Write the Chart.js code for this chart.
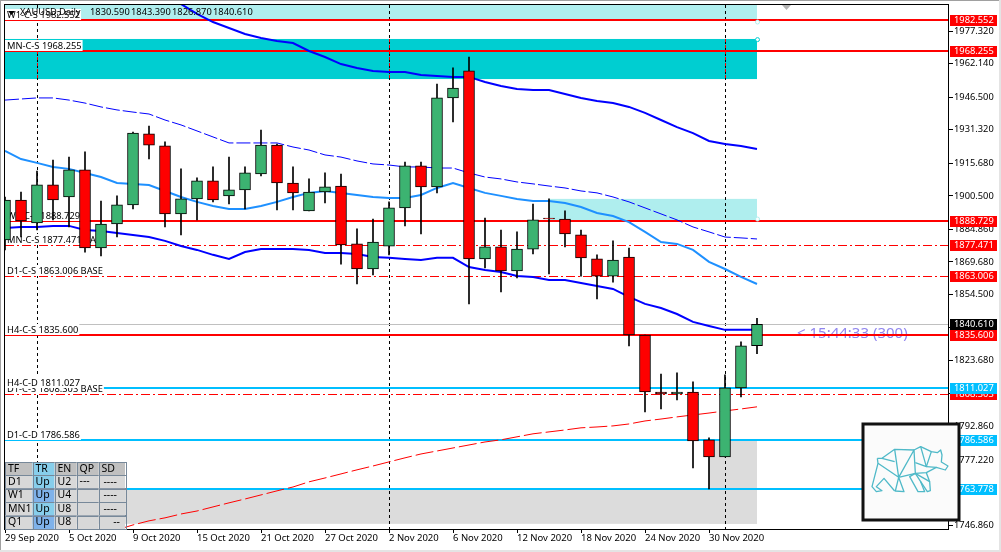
<!DOCTYPE html>
<html>
<head>
<meta charset="utf-8">
<title>XAUUSD Daily</title>
<script src="https://cdn.jsdelivr.net/npm/chart.js@4"></script>
<style>
html, body { margin: 0; padding: 0; background: #fff; }
canvas { display: block; }
</style>
</head>
<body>
<canvas id="chart" width="1001" height="552"></canvas>
<script>
var dates = ['29 Sep 2020','30 Sep 2020','1 Oct 2020','2 Oct 2020','5 Oct 2020','6 Oct 2020','7 Oct 2020','8 Oct 2020',
  '9 Oct 2020','12 Oct 2020','13 Oct 2020','14 Oct 2020','15 Oct 2020','16 Oct 2020','19 Oct 2020','20 Oct 2020',
  '21 Oct 2020','22 Oct 2020','23 Oct 2020','26 Oct 2020','27 Oct 2020','28 Oct 2020','29 Oct 2020','30 Oct 2020',
  '2 Nov 2020','3 Nov 2020','4 Nov 2020','5 Nov 2020','6 Nov 2020','9 Nov 2020','10 Nov 2020','11 Nov 2020',
  '12 Nov 2020','13 Nov 2020','16 Nov 2020','17 Nov 2020','18 Nov 2020','19 Nov 2020','20 Nov 2020','23 Nov 2020',
  '24 Nov 2020','25 Nov 2020','26 Nov 2020','27 Nov 2020','30 Nov 2020','1 Dec 2020','2 Dec 2020','3 Dec 2020'];
// empty slots to the right of the last candle
var futureSlots = ['','','','','','','','','','','',''];

var opens = [1879.9,1898.6,1887.9,1905.6,1900.0,1912.6,1876.2,1887.4,1896.3,1929.4,1923.8,1892.1,1899.1,1907.5,1900.5,1903.3,
  1910.7,1924.2,1906.5,1893.5,1902.3,1905.1,1878.1,1866.4,1877.1,1894.9,1914.5,1904.7,1946.2,1958.8,1871.1,1876.7,
  1865.5,1875.7,1890.2,1889.7,1882.3,1871.1,1863.1,1872.0,1835.6,1809.0,1808.1,1809.0,1786.7,1778.7,1810.9,1830.59];
var highs = [1900.0,1902.3,1912.1,1917.2,1918.6,1921.0,1898.1,1900.5,1930.3,1933.1,1925.7,1913.1,1908.9,1914.0,1918.6,1914.0,
  1931.2,1924.7,1914.0,1908.4,1911.2,1910.7,1885.1,1889.7,1897.7,1916.3,1916.3,1952.7,1960.2,1965.3,1890.2,1884.6,
  1883.7,1896.7,1899.1,1893.5,1884.6,1873.0,1879.5,1876.2,1835.6,1817.4,1817.9,1813.7,1787.6,1817.0,1832.4,1843.39];
var lows = [1875.3,1881.3,1884.6,1889.3,1886.0,1874.3,1872.5,1881.3,1894.4,1917.7,1886.0,1882.3,1889.3,1897.7,1896.7,1894.4,
  1909.8,1893.9,1893.9,1893.5,1897.2,1868.7,1859.4,1863.6,1873.0,1886.5,1882.7,1901.9,1935.0,1850.1,1866.9,1855.7,
  1862.2,1873.4,1864.1,1876.7,1863.1,1852.4,1860.3,1830.5,1799.7,1801.1,1805.3,1773.6,1763.8,1778.7,1806.7,1826.87];
var closes = [1898.6,1888.8,1905.6,1898.6,1912.6,1876.2,1887.4,1896.3,1929.8,1924.2,1892.1,1899.1,1907.5,1898.6,1903.3,1911.2,
  1924.2,1906.5,1901.9,1902.3,1904.7,1877.6,1866.4,1879.0,1894.9,1914.5,1904.7,1946.2,1950.8,1871.1,1876.7,1865.5,
  1875.7,1889.3,1889.7,1882.7,1871.6,1863.1,1870.6,1835.6,1809.0,1808.1,1809.0,1786.2,1778.7,1810.9,1830.5,1840.61];

var upperBlue = [null,null,null,null,null,null,null,null,null,2001.2,1995.1,1990.0,1985.4,1981.6,1978.8,1976.0,
  1974.2,1972.8,1971.8,1968.1,1965.3,1962.0,1960.2,1958.8,1958.3,1958.3,1956.9,1956.4,1956.0,1956.0,1953.6,1951.8,
  1950.4,1949.9,1949.9,1948.0,1946.2,1944.8,1943.8,1942.0,1939.2,1935.9,1932.6,1929.8,1926.1,1924.7,1923.8,1922.4];
var midBlue = [1921.5,1917.7,1915.9,1914.0,1913.1,1911.2,1909.3,1906.5,1906.1,1905.6,1902.8,1900.0,1897.7,1895.8,1894.4,1894.4,
  1895.8,1897.7,1900.0,1901.9,1902.8,1901.9,1900.9,1900.0,1899.5,1899.5,1900.9,1904.2,1906.5,1904.2,1901.9,1900.5,
  1899.1,1898.1,1898.1,1897.2,1895.3,1892.5,1891.1,1888.3,1883.7,1879.0,1878.1,1875.3,1869.7,1866.4,1862.7,1859.4];
var thinBlue = [1945.2,1945.7,1946.2,1946.2,1945.2,1943.8,1942.0,1940.6,1939.6,1938.7,1935.9,1933.6,1930.8,1928.0,1925.2,1925.2,
  1925.2,1925.2,1923.3,1921.9,1919.6,1918.6,1916.8,1915.4,1914.9,1914.0,1914.0,1913.5,1913.5,1911.2,1909.3,1908.4,
  1907.0,1906.1,1905.1,1904.2,1902.8,1901.9,1900.0,1897.7,1894.9,1892.1,1889.3,1886.0,1883.7,1881.3,1880.9,1880.4];
var lowerBlue = [1885.5,1886.0,1886.0,1886.5,1886.5,1884.6,1884.1,1883.2,1882.3,1881.3,1879.5,1877.1,1875.3,1873.0,1871.1,1874.3,
  1875.7,1875.7,1875.7,1875.3,1873.9,1873.9,1873.4,1872.0,1871.6,1871.1,1870.6,1871.6,1871.6,1867.3,1865.9,1865.0,
  1863.1,1862.7,1861.3,1861.3,1859.9,1858.5,1857.1,1853.4,1850.1,1848.2,1845.4,1841.7,1839.8,1838.0,1838.0,1838.0];
var slowRed = [null,null,null,null,null,null,null,1744.7,1747.0,1748.9,1750.3,1752.1,1753.5,1755.4,1757.3,1759.1,
  1761.0,1762.9,1764.7,1767.1,1768.9,1770.8,1772.7,1774.5,1776.4,1778.3,1780.1,1781.5,1782.9,1784.3,1785.7,1786.7,
  1788.1,1789.5,1790.4,1791.3,1792.3,1792.7,1793.2,1794.1,1795.5,1796.4,1797.4,1798.3,1799.2,1800.2,1801.1,1802.1];

var yTicks = [1977.32,1962.14,1946.5,1931.32,1915.68,1900.5,1884.86,1869.68,1854.5,1839.32,1823.68,1808.5,1792.86,1777.22,1762.04,1746.86];

var levelPrices = [1982.552,1968.255,1888.729,1877.471,1863.006,1835.6,1808.303,1811.027,1786.586,1763.778];
var levelNames = ['W1-C-S 1982.552','MN-C-S 1968.255','W1-C-S 1888.729','MN-C-S 1877.471 BASE','D1-C-S 1863.006 BASE',
  'H4-C-S 1835.600','D1-C-S 1808.303 BASE','H4-C-D 1811.027','D1-C-D 1786.586',''];
var levelKinds = ['solid','solid','solid','dash','dash','solid','dash','demand','demand','demand'];
var bidPrice = 1840.61;

// [first candle, last candle, top price, bottom price, colour]
var zones = [
  [0,47,1989.6,1982.55,'#afeeee'],
  [0,47,1973.7,1955.0,'#00ced1'],
  [34,47,1899.1,1888.73,'#afeeee'],
  [44,47,1786.2,1747.5,'#dcdcdc'],
  [0,47,1763.78,1747.5,'#dcdcdc']
];
var anchors = [[47,1981.6,'#afeeee'],[47,1973.4,'#00ced1'],[47,1889.7,'#afeeee']];
var periodStarts = [2,24,45];

var headerTitle = 'XAUUSD,Daily';
var headerPrices = ['1830.590','1843.390','1826.870','1840.610'];
var countdown = '< 15:44:33 (300)';

var tableHead = ['TF','TR','EN','QP','SD'];
var tableRows = [
  ['D1','Up','U2','---','----'],
  ['W1','Up','U4','','----'],
  ['MN1','Up','U8','','----'],
  ['Q1','Up','U8','','--']
];

var FONT = '"Noto Sans", sans-serif';
var GREEN = '#3cb371', RED = '#ff0000', SKY = '#00bfff';

function ranges(a, b) {
  return a.map(function(v, i) { return [v, b[i]]; });
}

function drawZones(chart) {
  var ctx = chart.ctx, x = chart.scales.x, y = chart.scales.y;
  zones.forEach(function(z) {
    ctx.fillStyle = z[4];
    var left = x.getPixelForValue(z[0]), right = x.getPixelForValue(z[1]);
    var top = y.getPixelForValue(z[2]), bottom = y.getPixelForValue(z[3]);
    ctx.fillRect(left, top, right - left, bottom - top);
  });
  // period separators, they come out red over the dark zone
  var cyan = zones[1];
  periodStarts.forEach(function(i) {
    var px = x.getPixelForValue(i) + 0.5;
    ctx.save();
    ctx.setLineDash([3, 3]);
    ctx.lineWidth = 1;
    ctx.strokeStyle = '#000';
    ctx.beginPath(); ctx.moveTo(px, chart.chartArea.top); ctx.lineTo(px, chart.chartArea.bottom); ctx.stroke();
    ctx.strokeStyle = '#ff0000';
    ctx.beginPath(); ctx.moveTo(px, y.getPixelForValue(cyan[2])); ctx.lineTo(px, y.getPixelForValue(cyan[3])); ctx.stroke();
    ctx.restore();
  });
}

function drawLevels(chart) {
  var ctx = chart.ctx, y = chart.scales.y, area = chart.chartArea;
  ctx.save();
  ctx.font = '15px ' + FONT;
  ctx.textBaseline = 'middle';
  ctx.textAlign = 'left';
  ctx.fillStyle = '#9085ee';
  ctx.fillText(countdown, 797, y.getPixelForValue(1836.4));

  ctx.strokeStyle = '#c0c0c0';
  ctx.lineWidth = 1;
  var by = Math.round(y.getPixelForValue(bidPrice)) + 0.5;
  ctx.beginPath(); ctx.moveTo(area.left, by); ctx.lineTo(area.right, by); ctx.stroke();

  levelPrices.forEach(function(p, i) {
    var py = Math.round(y.getPixelForValue(p));
    var kind = levelKinds[i];
    ctx.beginPath();
    if (kind === 'dash') {
      ctx.setLineDash([9, 3, 2, 3]);
      ctx.lineWidth = 1;
      ctx.strokeStyle = RED;
      ctx.moveTo(area.left, py + 0.5); ctx.lineTo(area.right, py + 0.5);
    } else {
      ctx.setLineDash([]);
      ctx.lineWidth = 2;
      ctx.strokeStyle = kind === 'demand' ? SKY : RED;
      ctx.moveTo(area.left, py); ctx.lineTo(area.right, py);
    }
    ctx.stroke();
  });
  ctx.setLineDash([]);

  ctx.font = '9.3px ' + FONT;
  levelPrices.forEach(function(p, i) {
    if (!levelNames[i]) return;
    var py = Math.round(y.getPixelForValue(p));
    var w = ctx.measureText(levelNames[i]).width;
    ctx.fillStyle = '#fff';
    ctx.fillRect(area.left, py - 11, w + 3, 11);
    ctx.fillStyle = '#000';
    ctx.fillText(levelNames[i], area.left + 2, py - 5);
  });
  ctx.restore();
}

function drawBorder(chart) {
  var ctx = chart.ctx, a = chart.chartArea;
  ctx.save();
  ctx.strokeStyle = '#000';
  ctx.lineWidth = 1;
  ctx.strokeRect(a.left - 0.5, a.top - 0.5, a.right - a.left, a.bottom - a.top + 1);
  ctx.restore();
}

function drawAnchors(chart) {
  var ctx = chart.ctx, x = chart.scales.x, y = chart.scales.y;
  ctx.save();
  anchors.forEach(function(a) {
    ctx.beginPath();
    ctx.arc(x.getPixelForValue(a[0]) + 0.5, y.getPixelForValue(a[1]), 2, 0, Math.PI * 2);
    ctx.fillStyle = '#fff';
    ctx.fill();
    ctx.lineWidth = 1;
    ctx.strokeStyle = a[2];
    ctx.stroke();
  });
  ctx.restore();
}

function drawHeader(chart) {
  var ctx = chart.ctx;
  ctx.save();
  ctx.font = '9.3px ' + FONT;
  ctx.textBaseline = 'middle';
  ctx.textAlign = 'left';
  ctx.fillStyle = '#000';
  ctx.fillText(headerTitle, 20, 12);
  var xs = [90, 131, 172, 213];
  headerPrices.forEach(function(t, i) { ctx.fillText(t, xs[i], 12); });
  ctx.beginPath(); ctx.moveTo(8, 11); ctx.lineTo(15, 11); ctx.lineTo(11.5, 15); ctx.closePath(); ctx.fill();
  ctx.fillStyle = '#b4b4b4';
  ctx.beginPath(); ctx.moveTo(782, 5); ctx.lineTo(791, 5); ctx.lineTo(786.5, 10); ctx.closePath(); ctx.fill();
  ctx.restore();
}

function drawTags(chart) {
  var ctx = chart.ctx, y = chart.scales.y;
  function tag(p, colour) {
    var py = Math.round(y.getPixelForValue(p));
    ctx.fillStyle = colour;
    ctx.fillRect(950, py - 5, 47, 11);
    ctx.fillStyle = '#fff';
    ctx.fillText(p.toFixed(3), 954, py + 0.5);
  }
  ctx.save();
  ctx.font = '9.3px ' + FONT;
  ctx.textBaseline = 'middle';
  ctx.textAlign = 'left';
  levelPrices.forEach(function(p, i) { tag(p, levelKinds[i] === 'demand' ? SKY : RED); });
  tag(bidPrice, '#000');
  ctx.restore();
}

function drawTable(chart) {
  var ctx = chart.ctx;
  var cols = [5, 32.5, 54.5, 76.5, 98.5, 125];
  var rowH = 13.4, top = 462;
  var tr = ['#87ceeb', '#7fb2ea'];
  ctx.save();
  ctx.font = '10.5px ' + FONT;
  ctx.textBaseline = 'middle';
  ctx.textAlign = 'left';
  [tableHead].concat(tableRows).forEach(function(row, r) {
    var ry = top + r * rowH;
    row.forEach(function(t, c) {
      var fill = r === 0 ? '#c0c0c0' : '#d8d8d8';
      if (c === 1) fill = r === 0 ? '#87ceeb' : tr[(r + 1) % 2];
      ctx.fillStyle = fill;
      ctx.fillRect(cols[c], ry, cols[c + 1] - cols[c], rowH);
      ctx.strokeStyle = '#778899';
      ctx.lineWidth = 1;
      ctx.strokeRect(Math.round(cols[c]) + 0.5, Math.round(ry) + 0.5, Math.round(cols[c + 1] - cols[c]), Math.round(rowH));
      ctx.fillStyle = '#000';
      if (c === 4 && r > 0) {
        ctx.textAlign = 'right';
        ctx.fillText(t, cols[5] - (r === 4 ? 5 : 8), ry + rowH / 2);
        ctx.textAlign = 'left';
      } else {
        ctx.fillText(t, cols[c] + 3, ry + rowH / 2 + (t === '---' ? -1 : 0));
      }
    });
  });
  ctx.restore();
}

function drawLogo(chart) {
  var ctx = chart.ctx;
  ctx.save();
  ctx.fillStyle = '#fbfbfb';
  ctx.fillRect(862, 423, 98, 98);
  ctx.strokeStyle = '#111';
  ctx.lineWidth = 3;
  ctx.strokeRect(863, 424, 96, 96);
  // bear outline, in pixels of the small logo box
  var strokes = [
    [[58,115],[72,115],[110,88],[168,90],[188,80],[220,95],[238,98],[248,90],[252,105],[250,126],[270,138],[262,150],[235,142],[205,158],[172,160],[155,170],[180,215],[200,215],[188,185],[172,160]],
    [[110,88],[122,172],[168,90],[172,160],[122,172],[112,213],[138,215],[122,172],[60,130],[58,115]],
    [[72,115],[110,125]],
    [[60,130],[42,200],[55,215],[72,212],[55,200],[78,175],[110,213]],
    [[172,160],[215,185],[217,212],[208,215],[188,185]],
    [[188,80],[205,140],[172,128]],
    [[205,140],[235,142]],
    [[205,140],[220,95]],
    [[205,158],[215,185]]
  ];
  ctx.strokeStyle = '#4fb9c8';
  ctx.lineWidth = 1.3;
  ctx.lineJoin = 'round';
  strokes.forEach(function(s) {
    ctx.beginPath();
    s.forEach(function(p, i) {
      var px = 858 + p[0] / 3, py = 420 + p[1] / 3;
      if (i === 0) ctx.moveTo(px, py); else ctx.lineTo(px, py);
    });
    ctx.stroke();
  });
  ctx.restore();
}

function drawFrame(chart) {
  var ctx = chart.ctx;
  ctx.save();
  ctx.fillStyle = '#a0a0a0';
  ctx.fillRect(0, 0, 1001, 1);
  ctx.fillRect(0, 0, 1, 552);
  ctx.fillStyle = '#e4e4e4';
  ctx.fillRect(0, 550, 1001, 2);
  ctx.fillRect(999, 0, 2, 552);
  ctx.restore();
}

var overlays = {
  id: 'overlays',
  beforeDatasetsDraw: function(chart) {
    drawZones(chart);
    drawLevels(chart);
  },
  afterDatasetsDraw: function(chart) {
    drawAnchors(chart);
    drawBorder(chart);
  },
  afterDraw: function(chart) {
    drawHeader(chart);
    drawTags(chart);
    drawTable(chart);
    drawLogo(chart);
    drawFrame(chart);
  }
};

new Chart(document.getElementById('chart').getContext('2d'), {
  type: 'bar',
  data: {
    labels: dates.concat(futureSlots),
    datasets: [
      { type: 'bar', label: 'Range', data: ranges(lows, highs), backgroundColor: '#000', borderWidth: 0, barThickness: 1, grouped: false, order: 2 },
      { type: 'bar', label: 'Body', data: ranges(opens, closes),
        backgroundColor: closes.map(function(c, i) { return c >= opens[i] ? GREEN : RED; }),
        borderColor: '#000', borderWidth: 1, borderSkipped: false, barThickness: 11, grouped: false, order: 1 },
      { type: 'line', label: 'Upper', data: upperBlue, borderColor: '#0000ff', borderWidth: 2, pointRadius: 0, tension: 0, spanGaps: false, order: 3 },
      { type: 'line', label: 'Mid', data: midBlue, borderColor: '#1e90ff', borderWidth: 2, pointRadius: 0, tension: 0, order: 3 },
      { type: 'line', label: 'Thin', data: thinBlue, borderColor: '#0000ff', borderWidth: 1, borderDash: [14, 3], pointRadius: 0, tension: 0, order: 3 },
      { type: 'line', label: 'Lower', data: lowerBlue, borderColor: '#0000ff', borderWidth: 2, pointRadius: 0, tension: 0, order: 3 },
      { type: 'line', label: 'Slow', data: slowRed, borderColor: '#ff0000', borderWidth: 1, borderDash: [18, 4], pointRadius: 0, tension: 0, order: 3 }
    ]
  },
  options: {
    responsive: false,
    animation: false,
    devicePixelRatio: 1,
    layout: { padding: { left: 5, top: 5, right: 0, bottom: 0 } },
    plugins: { legend: { display: false }, tooltip: { enabled: false } },
    scales: {
      x: {
        type: 'category',
        offset: false,
        border: { display: false },
        grid: { offset: false, drawOnChartArea: false, color: '#000', tickLength: 4 },
        ticks: { align: 'start', autoSkip: false, maxRotation: 0, padding: 0, color: '#000', font: { family: FONT, size: 9.5 } },
        afterBuildTicks: function(s) {
          s.ticks = s.ticks.filter(function(t) { return t.value % 4 === 0 && t.value < dates.length; });
        },
        afterFit: function(s) {
          s.height = 23;
          s.paddingLeft = 0; s.paddingRight = 0;
        }
      },
      y: {
        position: 'right',
        min: 1745.1,
        max: 1989.55,
        border: { display: false },
        grid: { drawOnChartArea: false, color: '#000', tickLength: 4 },
        ticks: {
          autoSkip: false, padding: 1, color: '#000', font: { family: FONT, size: 9.3 },
          callback: function(v) { return v.toFixed(3); }
        },
        afterBuildTicks: function(s) {
          s.ticks = yTicks.map(function(v) { return { value: v }; });
        },
        afterFit: function(s) {
          s.width = 52;
          s.paddingTop = 0; s.paddingBottom = 0;
        }
      }
    }
  },
  plugins: [overlays]
});
</script>
</body>
</html>
